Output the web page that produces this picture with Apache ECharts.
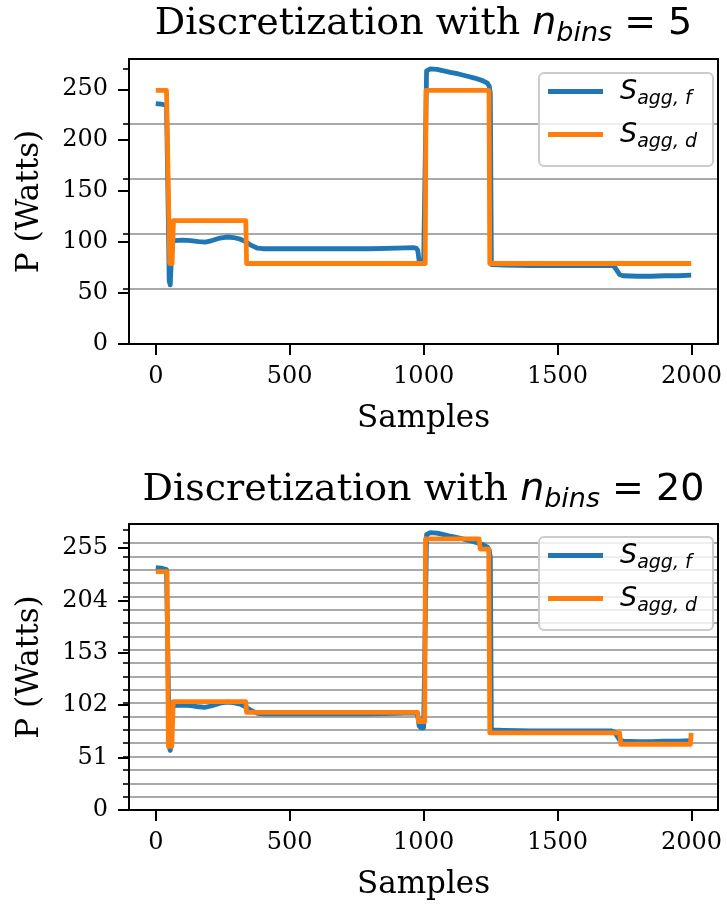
<!DOCTYPE html>
<html><head><meta charset="utf-8">
<script src="https://cdn.jsdelivr.net/npm/echarts@6/dist/echarts.min.js"></script>
<style>html,body{margin:0;padding:0;background:#fff}#c{width:727px;height:904px}</style>
</head><body><div id="c"></div>
<script>
// ---- data ----
const samplesF = [0, 20, 40, 44, 47, 50, 54, 57, 61, 70, 100, 130, 160, 185, 210, 240, 265, 290, 315, 335, 355, 380, 400, 500, 600, 700, 800, 900, 960, 972, 978, 983, 990, 1000, 1007, 1011, 1025, 1050, 1075, 1100, 1130, 1160, 1190, 1220, 1238, 1245, 1249, 1253, 1300, 1400, 1500, 1600, 1700, 1712, 1722, 1732, 1745, 1800, 1850, 1900, 1950, 1999];
const powerF   = [236, 235.5, 234, 233, 120, 62, 58, 59, 100, 101.5, 102, 101.5, 100.5, 100, 101.5, 104, 105, 104.5, 103, 100.5, 97, 94, 93.5, 93.5, 93.5, 93.5, 93.5, 94, 94.5, 94, 92, 82, 80, 80, 81, 268, 270, 269.5, 268, 266.5, 265, 263, 261, 258.5, 256, 253, 246, 78, 77.5, 77, 77, 77, 77, 76, 72, 68, 67, 66.5, 66.5, 67, 67, 67.5];

const samplesD5 = [0, 40, 52, 61, 66, 336, 339, 1006, 1009, 1244, 1247, 1999];
const powerD5   = [249, 249, 79, 79, 121, 121, 79, 79, 249, 249, 79, 79];

const samplesD20 = [0, 42, 47, 60, 65, 336, 339, 978, 981, 1004, 1007, 1207, 1211, 1243, 1247, 1732, 1736, 1996, 1999];
const powerD20   = [232, 232, 62, 62, 105.5, 105.5, 95, 95, 86, 86, 264, 264, 254, 254, 75, 75, 64, 64, 75];

const xTickValues = [0, 500, 1000, 1500, 2000];
const yTicks5  = [0, 50, 100, 150, 200, 250];
const yTicks20 = [0, 51, 102, 153, 204, 255];
const binEdges5  = [0, 54, 108, 162, 216, 270];
const binEdges20 = [0, 13, 26, 39, 52, 65, 78, 91, 104, 117, 130, 143, 156, 169, 182, 195, 208, 221, 234, 247, 260, 273];
const nBinsLabels = ['5', '20'];
const seriesNames = ['Sf', 'Sd'];

// ---- layout / style ----
const xRange = [-100, 2099];
const yMax = [279.7, 278.4];
const binWidth = [54, 13];
const grids = [
  {left: 129, top: 59, width: 589, height: 285},
  {left: 129, top: 524, width: 589, height: 286}
];
const BLUE = '#1f77b4', ORANGE = '#ff7f0e';
const serif = 'DejaVu Serif';
const blackLine = {color: '#000', width: 2};
const LW = 4.8;

const pairs = (xs, ys) => xs.map((x, i) => [x, ys[i]]);

const xAxes = [], yAxes = [];
[0, 1].forEach(g => {
  xAxes.push({type: 'value', gridIndex: g, min: xRange[0], max: xRange[1], position: 'bottom',
    axisLine: {show: true, onZero: false, lineStyle: blackLine},
    axisTick: {show: true, length: 11, lineStyle: blackLine, customValues: xTickValues},
    axisLabel: {customValues: xTickValues, formatter: v => String(v), fontFamily: serif, fontSize: 24, color: '#000', margin: 21},
    splitLine: {show: false}});
  xAxes.push({type: 'value', gridIndex: g, min: xRange[0], max: xRange[1], position: 'top',
    axisLine: {show: true, onZero: false, lineStyle: blackLine},
    axisTick: {show: false}, axisLabel: {show: false}, splitLine: {show: false}});
  const ticks = g === 0 ? yTicks5 : yTicks20;
  const edges = g === 0 ? binEdges5 : binEdges20;
  yAxes.push({type: 'value', gridIndex: g, min: 0, max: yMax[g], position: 'left',
    axisLine: {show: true, onZero: false, lineStyle: blackLine},
    axisTick: {show: true, length: 11, lineStyle: blackLine, customValues: ticks},
    axisLabel: {customValues: ticks, formatter: v => String(v), fontFamily: serif, fontSize: 24, color: '#000', margin: 21},
    splitLine: {show: false}});
  yAxes.push({type: 'value', gridIndex: g, min: 0, max: yMax[g], interval: binWidth[g], position: 'left',
    axisLine: {show: false, onZero: false},
    axisTick: {show: true, length: 6, lineStyle: {color: '#000', width: 1.6}, customValues: edges},
    axisLabel: {show: false},
    splitLine: {show: true, showMinLine: false, showMaxLine: false, lineStyle: {color: '#a9a9a9', width: 2}}});
  yAxes.push({type: 'value', gridIndex: g, min: 0, max: yMax[g], position: 'right',
    axisLine: {show: true, onZero: false, lineStyle: blackLine},
    axisTick: {show: false}, axisLabel: {show: false}, splitLine: {show: false}});
});

const lineSeries = (name, data, color, g) => ({
  type: 'line', name, data, xAxisIndex: g * 2, yAxisIndex: g * 3,
  symbol: 'none', showSymbol: false, animation: false, silent: true,
  lineStyle: {color, width: LW, join: 'round'}, itemStyle: {color},
  z: name === 'Sd' ? 4 : 3
});

const series = [
  lineSeries('Sf', pairs(samplesF, powerF), BLUE, 0),
  lineSeries('Sd', pairs(samplesD5, powerD5), ORANGE, 0),
  lineSeries('Sf', pairs(samplesF, powerF), BLUE, 1),
  lineSeries('Sd', pairs(samplesD20, powerD20), ORANGE, 1)
];

const makeLegend = top => ({
  orient: 'vertical', left: 539, top, data: seriesNames,
  icon: 'rect', itemWidth: 55, itemHeight: LW, itemGap: 12, padding: [5, 16, 14, 9],
  backgroundColor: 'rgba(255,255,255,0.8)', borderColor: '#cccccc', borderWidth: 2, borderRadius: 5,
  selectedMode: false,
  formatter: n => n === 'Sf' ? '{s|S}{sub|agg, f}' : '{s|S}{sub|agg, d}',
  textStyle: {rich: {
    s: {fontFamily: 'DejaVu Sans', fontStyle: 'italic', fontSize: 27, padding: [0, 0, 0, 12], color: '#000'},
    sub: {fontFamily: 'DejaVu Sans', fontStyle: 'italic', fontSize: 19, padding: [16, 0, 0, 0], color: '#000'}
  }}
});

const titleRich = {
  a: {fontFamily: serif, fontSize: 38, color: '#000'},
  n: {fontFamily: 'DejaVu Sans', fontStyle: 'italic', fontSize: 38, color: '#000'},
  b: {fontFamily: 'DejaVu Sans', fontStyle: 'italic', fontSize: 27, padding: [20, 0, 0, 0], color: '#000'},
  c: {fontFamily: 'DejaVu Sans', fontSize: 38, color: '#000'}
};
const graphic = [];
[0, 1].forEach(g => {
  const gr = grids[g];
  const cx = gr.left + gr.width / 2;
  graphic.push({type: 'text', x: cx, y: g === 0 ? 24 : 490, z: 10,
    style: {text: '{a|Discretization with }{n|n}{b|bins}{c| = ' + nBinsLabels[g] + '}', rich: titleRich,
      align: 'center', verticalAlign: 'middle'}});
  graphic.push({type: 'text', x: 30, y: gr.top + gr.height / 2, rotation: Math.PI / 2, z: 10,
    style: {text: 'P (Watts)', fontFamily: serif, fontSize: 31, fill: '#000', align: 'center', verticalAlign: 'middle'}});
  graphic.push({type: 'text', x: cx, y: gr.top + gr.height + 75, z: 10,
    style: {text: 'Samples', fontFamily: serif, fontSize: 31, fill: '#000', align: 'center', verticalAlign: 'middle'}});
});

const chart = echarts.init(document.getElementById('c'), null, {renderer: 'canvas'});
chart.setOption({
  animation: false,
  backgroundColor: '#fff',
  grid: grids.map(g => Object.assign({containLabel: false, show: false}, g)),
  xAxis: xAxes,
  yAxis: yAxes,
  legend: [makeLegend(73), makeLegend(537)],
  series,
  graphic
});
</script></body></html>
